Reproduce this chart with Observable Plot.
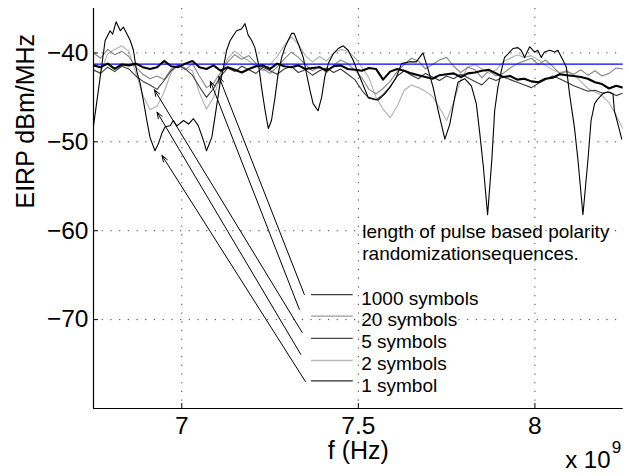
<!DOCTYPE html>
<html>
<head>
<meta charset="utf-8">
<script src="https://cdn.jsdelivr.net/npm/d3@7"></script>
<script src="https://cdn.jsdelivr.net/npm/@observablehq/plot@0.6"></script>
<style>
  html, body { margin: 0; padding: 0; background: #fff; }
  #chart svg { display: block; }
</style>
</head>
<body>
<div id="chart"></div>
<script>
// ---------- data (frequency in units of 1e9 Hz, EIRP in dBm/MHz) ----------
const xDomain = [6.75, 8.25];
const yDomain = [-80, -35];
const xTicks = [7, 7.5, 8];
const yTicks = [-70, -60, -50, -40];
const limitLevel = -41.25; // blue mask line

const freqGrid = [
  6.75,6.77,6.79,6.81,6.83,6.85,6.87,6.89,6.91,6.93,
  6.95,6.97,6.99,7.01,7.03,7.05,7.07,7.09,7.11,7.13,
  7.15,7.17,7.19,7.21,7.23,7.25,7.27,7.29,7.31,7.33,
  7.35,7.37,7.39,7.41,7.43,7.45,7.47,7.49,7.51,7.53,
  7.55,7.57,7.59,7.61,7.63,7.65,7.67,7.69,7.71,7.73,
  7.75,7.77,7.79,7.81,7.83,7.85,7.87,7.89,7.91,7.93,
  7.95,7.97,7.99,8.01,8.03,8.05,8.07,8.09,8.11,8.13,
  8.15,8.17,8.19,8.21,8.23,8.25
];

const sym1000 = [
  -41.4,-41.6,-41.2,-41.8,-41.3,-41.4,-41.2,-41.6,-41.8,-41.6,
  -40.9,-41.5,-41.6,-41.2,-40.9,-41.6,-41.8,-41.4,-42.0,-41.6,
  -41.9,-42.2,-41.8,-41.5,-41.4,-41.8,-41.2,-41.5,-41.6,-41.4,
  -41.8,-41.7,-41.6,-42.0,-41.5,-41.4,-41.8,-41.9,-42.0,-41.7,
  -41.8,-43.0,-42.1,-41.8,-42.0,-42.3,-42.5,-42.7,-42.9,-42.5,
  -42.4,-42.3,-42.7,-42.3,-42.2,-42.0,-41.9,-42.3,-42.7,-42.6,
  -43.0,-42.9,-43.2,-43.3,-42.9,-42.8,-42.4,-42.5,-42.6,-42.7,
  -42.9,-43.3,-43.5,-44.0,-43.7,-43.9
];
const sym20 = [
  -40.0,-40.6,-39.6,-40.2,-39.8,-40.4,-41.6,-42.4,-42.9,-42.6,
  -43.0,-41.8,-41.3,-41.9,-41.2,-42.6,-43.9,-43.4,-42.2,-41.0,
  -40.2,-40.7,-40.3,-41.2,-41.8,-42.3,-41.6,-40.7,-39.9,-40.5,
  -41.3,-42.0,-41.5,-42.2,-41.4,-40.8,-41.2,-41.9,-42.8,-44.1,
  -44.6,-44.0,-43.2,-42.1,-41.3,-40.6,-40.9,-41.8,-41.3,-40.8,
  -40.5,-41.5,-42.2,-41.6,-41.9,-42.8,-42.0,-42.6,-42.3,-41.7,
  -41.2,-40.9,-40.6,-41.3,-40.8,-41.5,-42.3,-42.1,-42.4,-41.9,
  -42.5,-42.0,-42.6,-42.3,-41.7,-41.8
];
const sym5 = [
  -41.9,-42.3,-41.6,-42.1,-41.5,-41.8,-42.6,-43.2,-43.6,-44.1,
  -43.1,-42.0,-41.4,-41.8,-42.5,-43.8,-45.0,-44.0,-42.6,-41.7,
  -42.1,-41.5,-41.9,-42.3,-41.6,-42.0,-42.4,-41.8,-41.5,-42.2,
  -41.9,-42.5,-42.0,-41.7,-42.2,-41.8,-42.4,-43.0,-44.2,-45.1,
  -45.3,-44.7,-43.8,-42.6,-42.0,-42.5,-42.9,-42.3,-42.7,-43.1,
  -42.6,-42.9,-42.4,-42.8,-43.2,-43.6,-42.8,-43.1,-42.7,-43.0,
  -43.3,-43.6,-43.9,-43.4,-43.0,-42.6,-42.9,-43.3,-43.7,-44.0,
  -44.3,-44.2,-44.5,-44.4,-44.8,-44.5
];
const sym2 = [
  -42.0,-42.2,-40.1,-39.6,-39.2,-39.8,-42.3,-44.8,-46.4,-46.0,
  -44.4,-42.2,-41.3,-41.7,-42.0,-44.5,-46.3,-45.0,-42.5,-40.6,
  -39.8,-40.4,-40.9,-41.5,-42.0,-41.3,-40.4,-39.2,-38.2,-39.0,
  -40.3,-41.0,-40.4,-40.9,-40.0,-39.6,-39.8,-40.5,-41.6,-42.8,
  -45.0,-46.3,-47.3,-46.0,-44.2,-43.6,-43.9,-44.3,-44.9,-46.2,
  -47.6,-45.5,-43.0,-41.6,-41.3,-41.8,-42.3,-41.9,-41.0,-40.6,
  -40.2,-40.5,-40.3,-40.8,-41.4,-41.9,-42.2,-42.0,-42.5,-43.2,
  -44.0,-44.4,-44.8,-45.6,-47.0,-48.6
];

// 1 symbol: read at its own break points
const sym1Freq = [
  6.750,6.769,6.783,6.797,6.804,6.814,6.826,6.835,6.844,6.854,
  6.863,6.872,6.882,6.891,6.901,6.910,6.924,6.934,6.943,6.953,
  6.967,6.976,6.986,7.005,7.019,7.033,7.047,7.061,7.070,7.085,
  7.094,7.108,7.118,7.127,7.137,7.155,7.169,7.179,7.188,7.198,
  7.207,7.217,7.226,7.236,7.245,7.254,7.264,7.273,7.283,7.292,
  7.301,7.311,7.318,7.330,7.344,7.353,7.363,7.372,7.386,7.396,
  7.405,7.415,7.429,7.443,7.457,7.471,7.485,7.504,7.528,7.556,
  7.575,7.589,7.608,7.622,7.646,7.664,7.683,7.697,7.712,7.726,
  7.745,7.759,7.773,7.782,7.801,7.820,7.834,7.844,7.854,7.866,
  7.878,7.886,7.895,7.905,7.914,7.924,7.938,7.952,7.961,7.971,
  7.985,7.999,8.008,8.018,8.027,8.042,8.056,8.065,8.079,8.089,
  8.098,8.112,8.122,8.136,8.150,8.159,8.169,8.178,8.192,8.206,
  8.221,8.225,8.235,8.246
];
const sym1 = [
  -48.2,-42.7,-38.6,-37.5,-37.9,-36.5,-37.5,-37.1,-37.8,-38.6,
  -39.7,-42.0,-43.4,-45.3,-47.6,-49.5,-51.0,-50.2,-49.1,-48.3,
  -48.2,-47.6,-48.2,-47.6,-48.0,-47.4,-48.2,-49.8,-51.0,-49.5,
  -47.2,-43.5,-41.6,-39.7,-38.6,-37.5,-37.3,-36.7,-38.0,-38.6,
  -39.4,-41.2,-43.9,-46.5,-48.5,-47.6,-45.0,-42.3,-40.5,-39.4,
  -38.6,-37.8,-37.8,-39.0,-40.5,-42.3,-44.2,-45.7,-46.5,-45.0,
  -42.7,-41.2,-40.1,-39.5,-39.2,-39.7,-40.8,-42.7,-45.0,-45.3,
  -44.6,-43.9,-42.7,-41.2,-41.0,-41.0,-40.0,-41.8,-43.9,-46.5,
  -49.7,-48.0,-45.0,-43.3,-42.9,-43.7,-45.7,-49.1,-52.8,-58.2,
  -52.0,-46.5,-43.9,-42.0,-40.5,-40.1,-39.5,-39.4,-39.7,-40.5,
  -39.3,-39.9,-39.7,-40.5,-39.9,-39.7,-39.9,-39.7,-40.8,-41.6,
  -44.6,-48.4,-52.1,-58.2,-52.1,-47.6,-45.7,-45.2,-44.6,-44.4,
  -44.6,-46.5,-48.0,-49.7
];

// annotation: legend + arrows + note
const legendLabels = ["1000 symbols", "20 symbols", "5 symbols", "2 symbols", "1 symbol"];
const legendColors = ["#404040", "#9a9a9a", "#4a4a4a", "#b8b8b8", "#2a2a2a"];
const legendLineP = [-67.2, -69.6, -72.1, -74.6, -76.9];
const legendTextP = [-67.65, -69.98, -72.54, -74.97, -77.41];
const legendLineF = [7.366, 7.484];
const legendTextF = 7.508;
const arrowTailF = [7.347, 7.333, 7.341, 7.337, 7.350];
const arrowTailP = [-67.17, -68.86, -71.45, -73.92, -76.96];
const arrowHeadF = [7.105, 7.081, 6.9225, 6.930, 6.944];
const arrowHeadP = [-42.65, -43.18, -44.15, -46.66, -51.54];
const noteLines = ["length of pulse based polarity", "randomizationsequences."];
const noteF = 7.511;
const noteP = [-60.16, -62.59];

const xLabel = "f (Hz)";
const yLabel = "EIRP dBm/MHz";
const xExponentBase = "x 10";
const xExponent = "9";

// ---------- build tables ----------
const gridRows = (vals) => freqGrid.map((f, i) => ({f, p: vals[i]}));
const rows1 = sym1Freq.map((f, i) => ({f, p: sym1[i]}));
const legendRows = legendLabels.map((label, i) => ({
  label, color: legendColors[i],
  f1: legendLineF[0], f2: legendLineF[1], pl: legendLineP[i], pt: legendTextP[i]
}));
const arrowRows = arrowTailF.map((f, i) => ({
  x1: f, y1: arrowTailP[i], x2: arrowHeadF[i], y2: arrowHeadP[i]
}));
const noteRows = noteLines.map((t, i) => ({t, f: noteF, p: noteP[i]}));

const W = 629, H = 476;
const mL = 93, mR = 6.3, mT = 8, mB = 68;
const innerW = W - mL - mR, innerH = H - mT - mB;
const font = "'Liberation Sans', Arial, Helvetica, sans-serif";

const chart = Plot.plot({
  width: W, height: H,
  marginLeft: mL, marginRight: mR, marginTop: mT, marginBottom: mB,
  x: {domain: xDomain},
  y: {domain: yDomain},
  style: {fontFamily: font, background: "#fff", color: "#000", overflow: "visible"},
  marks: [
    Plot.gridX(xTicks, {stroke: "#000", strokeOpacity: 0.75, strokeDasharray: "1.2,7.5"}),
    Plot.gridY(yTicks, {stroke: "#000", strokeOpacity: 0.75, strokeDasharray: "1.2,7.5"}),
    Plot.line(gridRows(sym2), {x: "f", y: "p", stroke: "#b0b0b0", strokeWidth: 1.1, clip: true}),
    Plot.line(gridRows(sym20), {x: "f", y: "p", stroke: "#888888", strokeWidth: 1.1, clip: true}),
    Plot.line(gridRows(sym5), {x: "f", y: "p", stroke: "#3c3c3c", strokeWidth: 1.1, clip: true}),
    Plot.line(rows1, {x: "f", y: "p", stroke: "#000", strokeWidth: 1.1, clip: true}),
    Plot.ruleY([limitLevel], {stroke: "#0000ff", strokeWidth: 1.3}),
    Plot.line(gridRows(sym1000), {x: "f", y: "p", stroke: "#000", strokeWidth: 2.1, clip: true}),
    Plot.arrow(arrowRows, {x1: "x1", y1: "y1", x2: "x2", y2: "y2", stroke: "#000", strokeWidth: 1, headLength: 10, headAngle: 40}),
    Plot.link(legendRows, {x1: "f1", x2: "f2", y1: "pl", y2: "pl", stroke: "color", strokeWidth: 1.3}),
    Plot.text(legendRows, {x: () => legendTextF, y: "pt", text: "label", textAnchor: "start", fontSize: 19, fill: "#000"}),
    Plot.text(noteRows, {x: "f", y: "p", text: "t", textAnchor: "start", fontSize: 19, fill: "#000"}),
    // axes
    Plot.ruleX([xDomain[0]], {stroke: "#000", strokeWidth: 1.2}),
    Plot.ruleY([yDomain[0]], {stroke: "#000", strokeWidth: 1.2}),
    Plot.tickX(xTicks, {x: d => d, insetTop: innerH - 5, stroke: "#000"}),
    Plot.tickY(yTicks, {y: d => d, insetRight: innerW - 5, stroke: "#000"}),
    Plot.axisX(xTicks, {tickSize: 0, tickPadding: 8, fontSize: 24.5, label: null, tickFormat: d => String(d)}),
    Plot.axisY(yTicks, {tickSize: 0, tickPadding: 5, fontSize: 24.5, label: null}),
    Plot.text([xLabel], {frameAnchor: "bottom", dy: 50, fontSize: 25, text: d => d}),
    Plot.text([yLabel], {frameAnchor: "left", dx: -68, rotate: -90, fontSize: 25, text: d => d}),
    Plot.text([xExponentBase], {frameAnchor: "bottom-right", dx: -12.7, dy: 59, textAnchor: "end", fontSize: 24, text: d => d}),
    Plot.text([xExponent], {frameAnchor: "bottom-right", dx: -11.5, dy: 44, textAnchor: "start", fontSize: 17, text: d => d})
  ]
});
document.getElementById("chart").appendChild(chart);
</script>
</body>
</html>
